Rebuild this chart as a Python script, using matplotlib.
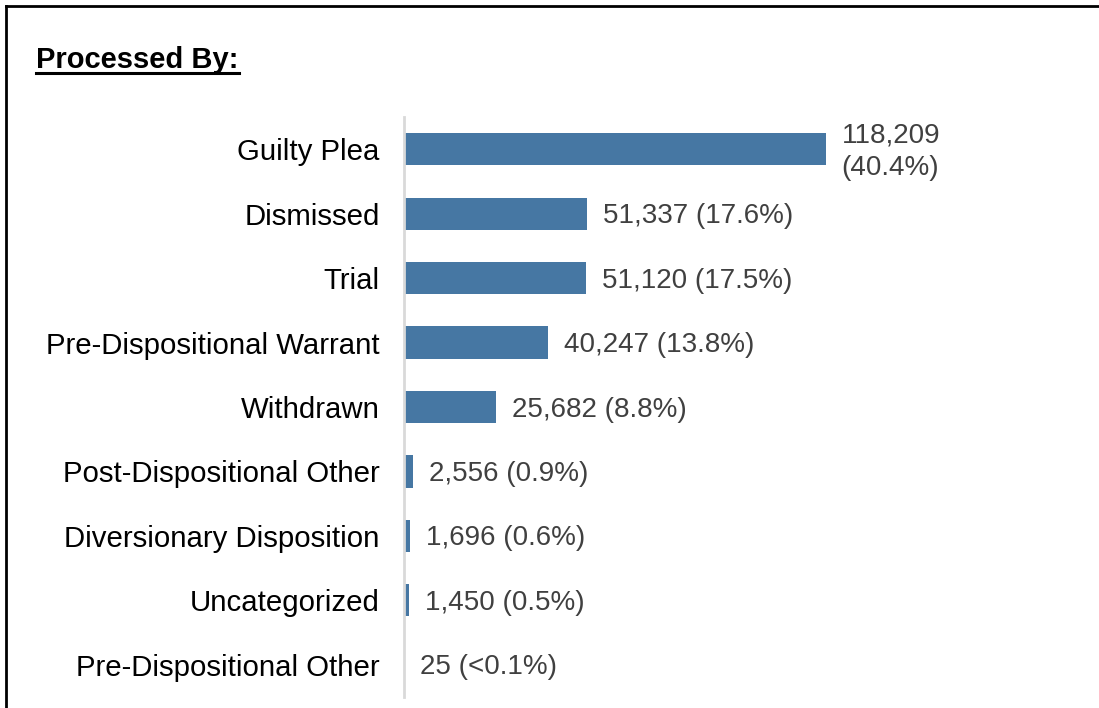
import matplotlib
matplotlib.use("Agg")
import matplotlib.pyplot as plt
from matplotlib.lines import Line2D

categories = [
    "Guilty Plea",
    "Dismissed",
    "Trial",
    "Pre-Dispositional Warrant",
    "Withdrawn",
    "Post-Dispositional Other",
    "Diversionary Disposition",
    "Uncategorized",
    "Pre-Dispositional Other",
]
counts = [118209, 51337, 51120, 40247, 25682, 2556, 1696, 1450, 25]
shares = ["40.4%", "17.6%", "17.5%", "13.8%", "8.8%", "0.9%", "0.6%", "0.5%", "<0.1%"]

plt.rcParams["font.family"] = ["Liberation Sans", "DejaVu Sans"]

W, H = 1099, 708
fig = plt.figure(figsize=(W / 100, H / 100), dpi=100)

# axes placed in pixel terms: left edge at the category axis line
ax_left, ax_right = 404, 939
ax_top, ax_bottom = 117, 697
ax = fig.add_axes([ax_left / W, 1 - ax_bottom / H,
                   (ax_right - ax_left) / W, (ax_bottom - ax_top) / H])

bar_color = "#4677A3"
ypos = list(range(len(categories)))
ax.barh(ypos, counts, height=0.5, color=bar_color)
ax.set_ylim(len(categories) - 0.5, -0.5)
ax.set_xlim(0, 150000)

for s in ["top", "right", "bottom"]:
    ax.spines[s].set_visible(False)
ax.spines["left"].set_color("#D9D9D9")
ax.spines["left"].set_linewidth(2)
ax.set_xticks([])
ax.set_yticks(ypos)
ax.set_yticklabels(categories, fontsize=21.2, color="black")
ax.tick_params(axis="y", length=0, pad=17.5)

# value labels beside each bar
px_per_unit = (ax_right - ax_left) / 150000
offset = 16 / px_per_unit
for i, (c, sh) in enumerate(zip(counts, shares)):
    if i == 0:
        label = f"{c:,}\n({sh})"
        ax.text(c + offset, i + 0.04, label, va="center", ha="left",
                fontsize=20, color="#404040", linespacing=1.32, clip_on=False)
    else:
        ax.text(c + offset, i + 0.04, f"{c:,} ({sh})", va="center", ha="left",
                fontsize=20, color="#404040", clip_on=False)

# heading
fig.text(36 / W, 1 - 68 / H, "Processed By:", fontsize=21, fontweight="bold",
         ha="left", va="baseline", color="black")
fig.add_artist(Line2D([36 / W, 239 / W], [1 - 73 / H, 1 - 73 / H],
                      color="black", linewidth=2.2))

# frame lines around the panel
fig.add_artist(Line2D([6 / W, 1.0], [1 - 6 / H, 1 - 6 / H], color="black", linewidth=2))
fig.add_artist(Line2D([6 / W, 6 / W], [0, 1 - 6 / H], color="black", linewidth=2))

fig.savefig("out.png", dpi=100)
